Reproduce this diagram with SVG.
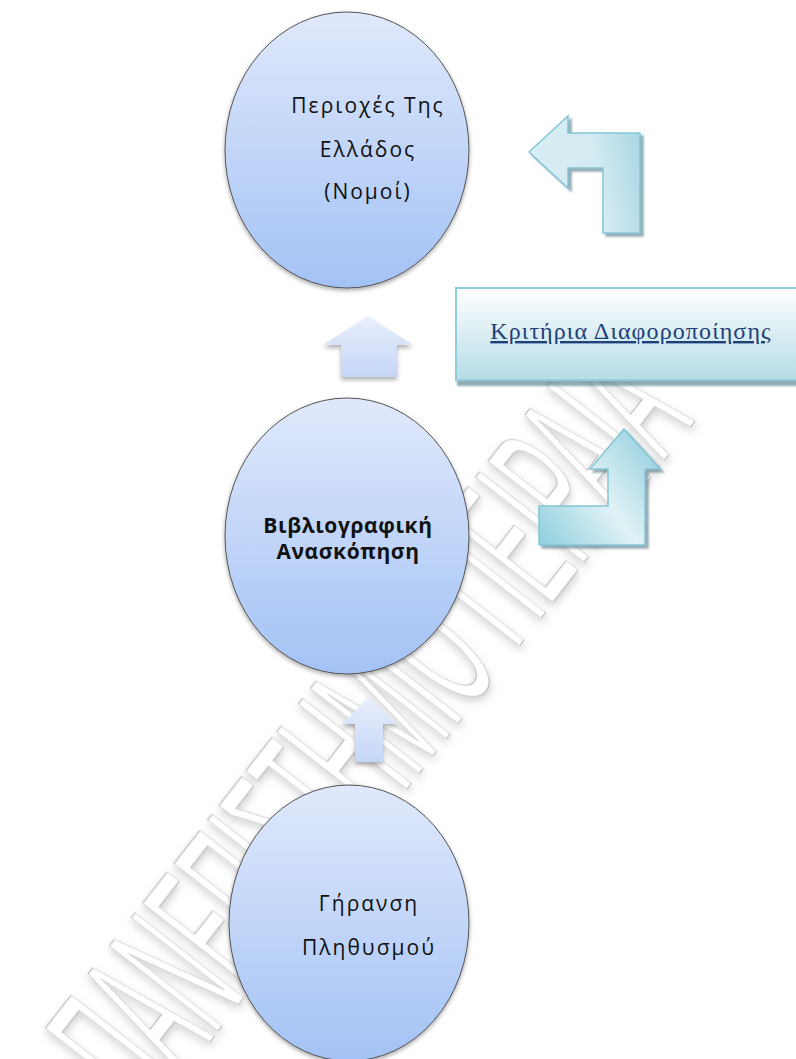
<svg xmlns="http://www.w3.org/2000/svg" width="796" height="1059" viewBox="0 0 796 1059">
<style>
.circ{fill:url(#gCirc);stroke:#555;stroke-width:1;filter:url(#shCirc)}
.ctext{font-family:"Open Sans","Noto Sans","DejaVu Sans",sans-serif;font-size:21px;letter-spacing:2px;fill:#111;text-anchor:middle}
.btext{font-family:"Open Sans","Noto Sans","DejaVu Sans",sans-serif;font-size:21px;letter-spacing:0.6px;font-weight:bold;fill:#111;text-anchor:middle}
.uparrow{fill:url(#gUp);filter:url(#shUp)}
.turn{stroke:#84c6d6;stroke-width:1.5;filter:url(#shTurn)}
.wm{font-family:"Liberation Sans",Arial,sans-serif;font-size:200px;fill:#fff;stroke:#b4b4b4;stroke-width:1;filter:url(#shWm)}
</style>
<defs>
<linearGradient id="gCirc" x1="0" y1="0" x2="0" y2="1">
<stop offset="0" stop-color="#e0e9fb"/>
<stop offset="1" stop-color="#a3c2f5"/>
</linearGradient>
<linearGradient id="gUp" x1="0" y1="0" x2="0" y2="1">
<stop offset="0" stop-color="#e9effc"/>
<stop offset="1" stop-color="#c5d6f7"/>
</linearGradient>
<linearGradient id="gLeft" x1="0" y1="0.2" x2="1" y2="0">
<stop offset="0" stop-color="#d9eef4"/>
<stop offset="0.55" stop-color="#d2eaf1"/>
<stop offset="1" stop-color="#a6d6e3"/>
</linearGradient>
<linearGradient id="gUpTurn" x1="0" y1="1" x2="1" y2="0.3">
<stop offset="0" stop-color="#8ecfdd"/>
<stop offset="0.55" stop-color="#e0f2f6"/>
<stop offset="1" stop-color="#9ed4e1"/>
</linearGradient>
<linearGradient id="gBox" x1="0" y1="0" x2="0" y2="1">
<stop offset="0" stop-color="#ffffff"/>
<stop offset="1" stop-color="#b5dce7"/>
</linearGradient>
<filter id="shCirc" x="-20%" y="-20%" width="140%" height="140%">
<feDropShadow dx="0" dy="2" stdDeviation="2" flood-color="#000" flood-opacity="0.35"/>
</filter>
<filter id="shUp" x="-30%" y="-30%" width="160%" height="160%">
<feDropShadow dx="0" dy="3" stdDeviation="2" flood-color="#000" flood-opacity="0.3"/>
</filter>
<filter id="shTurn" x="-20%" y="-20%" width="140%" height="140%">
<feDropShadow dx="3" dy="3" stdDeviation="0.8" flood-color="#5b7b86" flood-opacity="0.65"/>
</filter>
<filter id="shBox" x="-10%" y="-20%" width="120%" height="140%">
<feDropShadow dx="2" dy="5" stdDeviation="1" flood-color="#5f8590" flood-opacity="0.7"/>
</filter>
<filter id="shWm" x="-20%" y="-20%" width="140%" height="140%">
<feDropShadow dx="-3" dy="3" stdDeviation="4" flood-color="#888" flood-opacity="0.4"/>
</filter>
</defs>
<rect x="0" y="0" width="796" height="1059" fill="#fff"/>

<g id="watermark">
<text class="wm" transform="translate(150,1118) rotate(-52)" x="0" y="0" textLength="885" lengthAdjust="spacingAndGlyphs">ΠΑΝΕΠΙΣΤΗΜΙΟ ΠΕΙΡΑΙΑ</text>
</g>

<g id="connectors">
<polygon class="uparrow" points="368,316 413,345 397,345 397,377 341,377 341,345 323,345"/>
<polygon class="uparrow" points="369,697 397,724 383,724 383,762 355,762 355,724 342,724"/>
<polygon class="turn" fill="url(#gLeft)" points="529,152 568,116 568,133 640,133 640,233 603,233 603,168 568,168 568,188"/>
<polygon class="turn" fill="url(#gUpTurn)" points="624,429 660,469 645,469 645,545 539,545 539,506 608,506 608,469 590,469"/>
</g>

<g id="node-perioxes">
<ellipse class="circ" cx="347" cy="150" rx="122" ry="138"/>
<text class="ctext" x="368" y="113">Περιοχές Της</text>
<text class="ctext" x="368" y="157">Ελλάδος</text>
<text class="ctext" x="368" y="199">(Νομοί)</text>
</g>

<g id="node-kritiria">
<rect x="456" y="288" width="342" height="92" fill="url(#gBox)" stroke="#92cddb" stroke-width="2" filter="url(#shBox)"/>
<text x="631" y="339" font-family="'Liberation Serif','Times New Roman',serif" font-size="24" letter-spacing="1.1" fill="#1f3f7a" text-anchor="middle" text-decoration="underline">Κριτήρια Διαφοροποίησης</text>
</g>

<g id="node-vivliografiki">
<ellipse class="circ" cx="347" cy="536" rx="122" ry="138"/>
<text class="btext" x="348" y="533">Βιβλιογραφική</text>
<text class="btext" x="348" y="559">Ανασκόπηση</text>
</g>

<g id="node-giransi">
<ellipse class="circ" cx="349" cy="923" rx="120" ry="138"/>
<text class="ctext" x="369" y="911">Γήρανση</text>
<text class="ctext" x="369" y="955">Πληθυσμού</text>
</g>
</svg>
